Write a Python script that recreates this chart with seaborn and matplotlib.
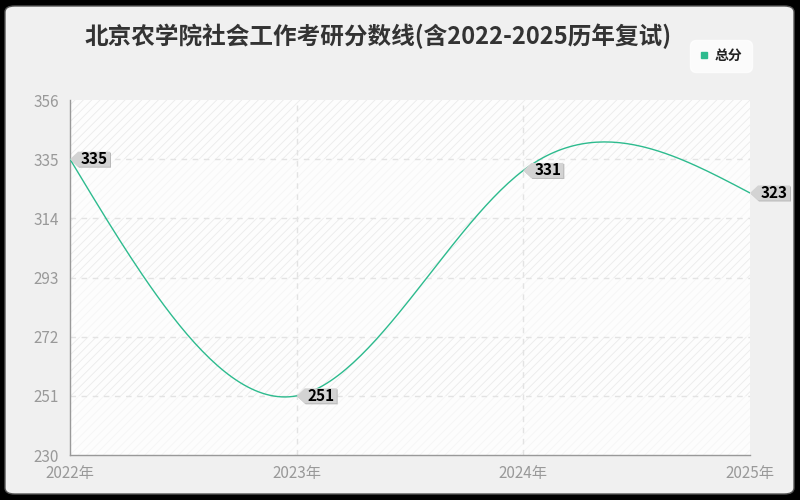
import numpy as np
import pandas as pd
import matplotlib
matplotlib.use("Agg")
import matplotlib.pyplot as plt
import matplotlib.transforms as mtransforms
from matplotlib.patches import Polygon, FancyBboxPatch
from matplotlib.lines import Line2D
import seaborn as sns

# ---- data ----
years = [2022, 2023, 2024, 2025]
year_labels = ["2022年", "2023年", "2024年", "2025年"]
scores = [335, 251, 331, 323]
series_name = "总分"
title = "北京农学院社会工作考研分数线(含2022-2025历年复试)"
y_ticks = [230, 251, 272, 293, 314, 335, 356]

sns.set_style("white")
plt.rcParams["font.family"] = ["Noto Sans CJK SC", "DejaVu Sans"]
plt.rcParams["hatch.linewidth"] = 0.6

LINE_C = "#2dbb8e"


def natural_spline(xs, ys, n=60):
    """Smooth line rendering through the given points (natural cubic)."""
    xs = np.asarray(xs, float)
    ys = np.asarray(ys, float)
    k = len(xs)
    h = np.diff(xs)
    A = np.zeros((k, k))
    b = np.zeros(k)
    A[0, 0] = A[-1, -1] = 1
    for i in range(1, k - 1):
        A[i, i - 1] = h[i - 1]
        A[i, i] = 2 * (h[i - 1] + h[i])
        A[i, i + 1] = h[i]
        b[i] = 6 * ((ys[i + 1] - ys[i]) / h[i] - (ys[i] - ys[i - 1]) / h[i - 1])
    M = np.linalg.solve(A, b)
    outx, outy = [], []
    for i in range(k - 1):
        t = np.linspace(0, 1, n, endpoint=(i == k - 2))
        x = xs[i] + t * h[i]
        a = 1 - t
        y = (a * ys[i] + t * ys[i + 1]
             + ((a ** 3 - a) * M[i] + (t ** 3 - t) * M[i + 1]) * h[i] ** 2 / 6)
        outx.extend(x)
        outy.extend(y)
    return np.array(outx), np.array(outy)


fig = plt.figure(figsize=(8, 5), dpi=100)
fig.patch.set_facecolor("black")
panel = FancyBboxPatch((5 / 800, 6 / 500), 789 / 800, 488 / 500,
                       boxstyle="round,pad=0,rounding_size=0.012",
                       transform=fig.transFigure, facecolor="#f0f0f0",
                       edgecolor="#555555", linewidth=1.0, zorder=-10)
fig.patches.append(panel)

ax = fig.add_axes([70 / 800, 45 / 500, 680 / 800, 355 / 500])
ax.set_facecolor("white")

# alternating hatched split areas
for i in range(len(y_ticks) - 1):
    ec = "#f5f5f5" if i % 2 == 0 else "#ebebeb"
    ax.axhspan(y_ticks[i], y_ticks[i + 1], facecolor="#fdfdfd", edgecolor=ec,
               hatch="////", linewidth=0, zorder=0)

# grid lines
for yv in y_ticks[1:-1]:
    ax.axhline(yv, color="#e3e3e3", lw=1.0, ls=(0, (4, 4)), zorder=1)
for xv in years[1:-1]:
    ax.axvline(xv, color="#e3e3e3", lw=1.0, ls=(0, (4, 4)), zorder=1)

sx, sy = natural_spline(years, scores)
curve = pd.DataFrame({"year": sx, "score": sy})
sns.lineplot(data=curve, x="year", y="score", ax=ax, color=LINE_C,
             lw=1.0, sort=False, zorder=3, legend=False)

ax.set_xlim(years[0], years[-1])
ax.set_ylim(y_ticks[0], y_ticks[-1])
ax.set_xticks(years)
ax.set_xticklabels(year_labels)
ax.set_yticks(y_ticks)
ax.set_xlabel("")
ax.set_ylabel("")

for s in ["top", "right"]:
    ax.spines[s].set_visible(False)
for s in ["left", "bottom"]:
    ax.spines[s].set_color("#999999")
    ax.spines[s].set_linewidth(1.0)
ax.tick_params(axis="both", which="both", length=5, width=1.0,
               color="#999999", labelcolor="#999999", labelsize=11)
ax.tick_params(axis="y", pad=3)
ax.tick_params(axis="x", pad=2)

# value tags
for xv, yv in zip(years, scores):
    base = mtransforms.Affine2D() + mtransforms.ScaledTranslation(xv, yv, ax.transData)
    shadow = Polygon([(1, -1), (9, 6.5), (41, 6.5), (41, -8.5), (9, -8.5)],
                     closed=True, transform=base, facecolor="#b8b8b8",
                     edgecolor="none", zorder=5, clip_on=False)
    tag = Polygon([(0, 0), (8, 7.5), (40, 7.5), (40, -7.5), (8, -7.5)],
                  closed=True, transform=base, facecolor="#d3d3d3",
                  edgecolor="none", zorder=6, clip_on=False)
    ax.add_patch(shadow)
    ax.add_patch(tag)
    ax.annotate(str(yv), xy=(xv, yv), xytext=(11 * 0.72, 0),
                textcoords="offset points", ha="left", va="center",
                fontsize=11, fontweight="bold", color="black",
                zorder=7, annotation_clip=False)

fig.text(378 / 800, 1 - 36 / 500, title, ha="center", va="center",
         fontsize=17, fontweight="bold", color="#333333")

handle = Line2D([], [], marker="s", color=LINE_C, ls="", markersize=5)
leg = fig.legend(handles=[handle], labels=[series_name], loc="center",
                 bbox_to_anchor=(721 / 800, 1 - 56 / 500), frameon=True,
                 fancybox=True, facecolor="white", edgecolor="white",
                 handlelength=0.6, handletextpad=0.5, borderpad=0.45,
                 prop={"size": 10, "weight": "bold"})
leg.get_frame().set_boxstyle("round,pad=0.2,rounding_size=0.4")
for t in leg.get_texts():
    t.set_color("#222222")

fig.savefig("out.png", dpi=100, facecolor=fig.get_facecolor())
